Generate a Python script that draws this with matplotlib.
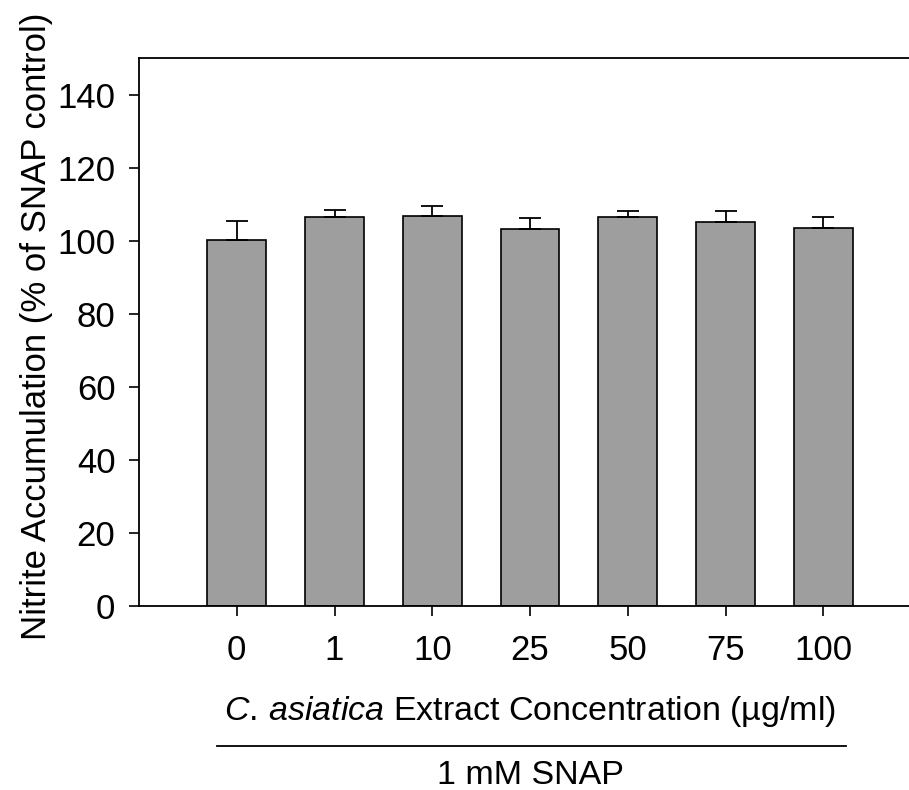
import matplotlib
matplotlib.use("Agg")
import matplotlib.pyplot as plt
import numpy as np
from matplotlib.lines import Line2D

plt.rcParams['font.family'] = ['Liberation Sans', 'DejaVu Sans']
plt.rcParams['mathtext.fontset'] = 'custom'
plt.rcParams['mathtext.rm'] = 'Liberation Sans'
plt.rcParams['mathtext.it'] = 'Liberation Sans:italic'

categories = ['0', '1', '10', '25', '50', '75', '100']
values = [100.3, 106.4, 106.8, 103.2, 106.4, 105.1, 103.6]
errors = [5.1, 2.1, 2.7, 3.1, 1.8, 3.0, 2.9]
yticks = [0, 20, 40, 60, 80, 100, 120, 140]

FS = 25
fig = plt.figure(figsize=(9.09, 7.90), dpi=100)
W, H = 909, 790
left, right, bottom, top = 139, 921, 606, 58
ax = fig.add_axes([left / W, 1 - bottom / H, (right - left) / W, (bottom - top) / H])

x = np.arange(len(categories))
ax.bar(x, values, width=0.6, color='#9e9e9e', edgecolor='black', linewidth=1.2, zorder=2)
ax.errorbar(x, values, yerr=[np.zeros(len(errors)), errors], fmt='none',
            ecolor='black', elinewidth=1.3, capsize=8, capthick=1.3, zorder=3)

ax.set_xlim(-1, 7)
ax.set_ylim(0, 150)
ax.set_xticks(x)
ax.set_xticklabels(categories)
ax.set_yticks(yticks)
ax.tick_params(axis='both', direction='out', labelsize=FS, width=1.2, colors='black')
ax.tick_params(axis='y', length=7, pad=10)
ax.tick_params(axis='x', length=7, pad=13)
for s in ['left', 'top', 'bottom']:
    ax.spines[s].set_linewidth(1.3)
ax.spines['right'].set_visible(False)

ax.set_ylabel('Nitrite Accumulation (% of SNAP control)', fontsize=FS)
ax.yaxis.set_label_coords(-0.11, 0.51)
ax.set_xlabel(r'$\mathit{C.\,asiatica}$ Extract Concentration (µg/ml)', fontsize=24.5, va='top')
ax.xaxis.set_label_coords(0.5, -0.16)

fig.add_artist(Line2D([217 / W, 846 / W], [1 - 745.5 / H, 1 - 745.5 / H],
                      color='black', linewidth=1.3))
fig.text(530 / W, 1 - 775 / H, '1 mM SNAP', fontsize=24.5, ha='center', va='center')

fig.savefig('out.png', dpi=100)
